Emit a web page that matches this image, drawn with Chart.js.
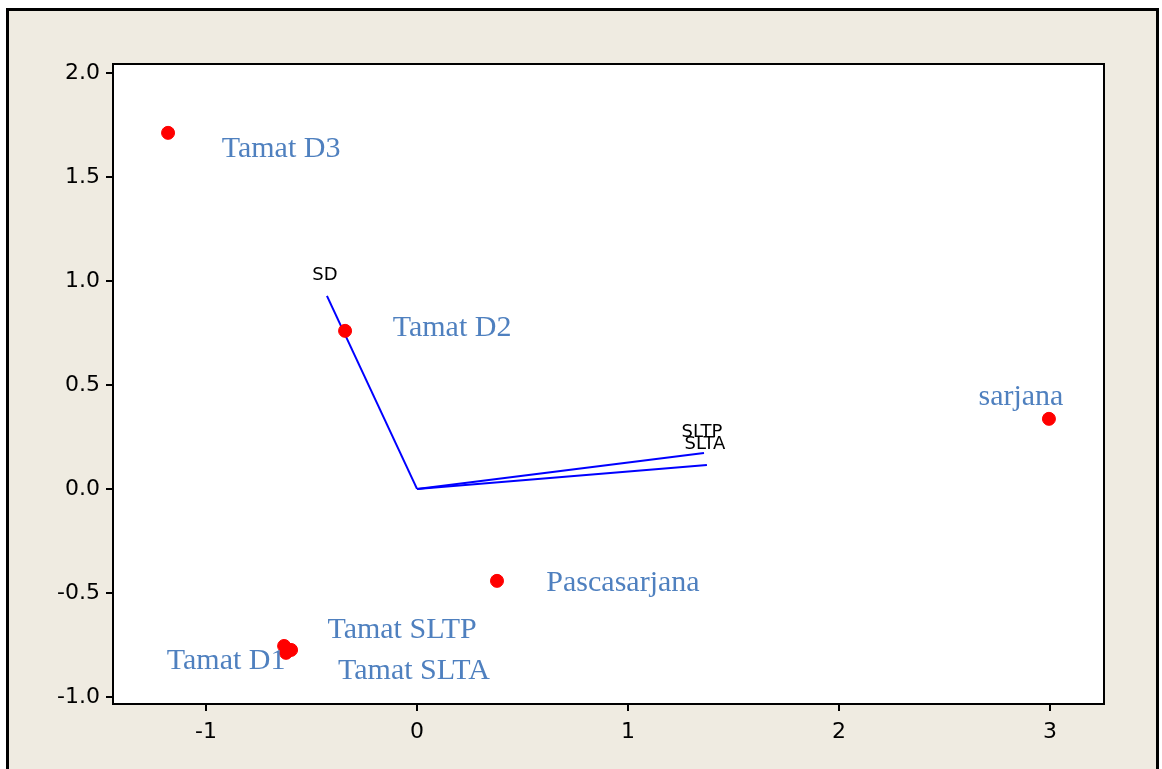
<!DOCTYPE html>
<html>
<head>
<meta charset="utf-8">
<title>Biplot</title>
<script src="https://cdn.jsdelivr.net/npm/chart.js@4.4.1/dist/chart.umd.min.js"></script>
<style>
  html, body { margin: 0; padding: 0; background: #ffffff; }
  canvas { display: block; }
</style>
</head>
<body>
<canvas id="c" width="1162" height="769"></canvas>
<script>
// Observations (row scores)
const pointNames = ['Tamat D3', 'Tamat D2', 'sarjana', 'Pascasarjana', 'Tamat D1', 'Tamat SLTP', 'Tamat SLTA'];
const pointX = [-1.180, -0.341, 2.995, 0.379, -0.630, -0.597, -0.621];
const pointY = [1.712, 0.760, 0.337, -0.442, -0.755, -0.774, -0.788];

// Variable loadings (drawn as vectors from the origin)
const vectorNames = ['SD', 'SLTP', 'SLTA'];
const vectorX = [-0.427, 1.360, 1.374];
const vectorY = [0.928, 0.173, 0.115];

// Axis ticks
const xTicks = [-1, 0, 1, 2, 3];
const yTicks = [-1.0, -0.5, 0.0, 0.5, 1.0, 1.5, 2.0];

// Label placement (pixel offsets of label centre from its mark)
const pointLabelOffsets = {
  'Tamat D3': [113, 16],
  'Tamat D2': [107, -3],
  'sarjana': [-28, -22],
  'Pascasarjana': [126, 2],
  'Tamat D1': [-58, 15],
  'Tamat SLTP': [111, -20],
  'Tamat SLTA': [128, 18]
};
const vectorLabelOffset = [-2, -21];

const PLOT = { left: 113, top: 64, right: 1104, bottom: 704 };
const W = 1162, H = 769;

const datasets = [
  {
    label: 'scores',
    data: pointX.map((x, i) => ({ x: x, y: pointY[i] })),
    backgroundColor: '#ff0000',
    borderColor: '#ff0000',
    pointRadius: 6.5,
    pointHoverRadius: 6.5,
    showLine: false
  }
];
vectorNames.forEach((name, i) => {
  datasets.push({
    label: name,
    data: [{ x: 0, y: 0 }, { x: vectorX[i], y: vectorY[i] }],
    showLine: true,
    borderColor: '#0000ff',
    borderWidth: 2,
    pointRadius: 0,
    fill: false
  });
});

const framePlugin = {
  id: 'frame',
  beforeDraw(chart) {
    const ctx = chart.ctx;
    const a = chart.chartArea;
    ctx.save();
    ctx.fillStyle = '#ffffff';
    ctx.fillRect(0, 0, W, H);
    ctx.fillStyle = '#efebe1';
    ctx.fillRect(7.5, 9.5, 1157.5 - 7.5, H + 10);
    ctx.strokeStyle = '#000000';
    ctx.lineWidth = 3;
    ctx.strokeRect(7.5, 9.5, 1157.5 - 7.5, H + 10);
    ctx.fillStyle = '#ffffff';
    ctx.fillRect(a.left, a.top, a.right - a.left, a.bottom - a.top);
    ctx.restore();
  },
  afterDatasetsDraw(chart) {
    const ctx = chart.ctx;
    const a = chart.chartArea;
    const xs = chart.scales.x, ys = chart.scales.y;
    ctx.save();
    // plot box
    ctx.strokeStyle = '#000000';
    ctx.lineWidth = 2;
    ctx.strokeRect(a.left, a.top, a.right - a.left, a.bottom - a.top);
    // vector labels
    ctx.fillStyle = '#000000';
    ctx.font = '18px "DejaVu Sans"';
    ctx.textAlign = 'center';
    ctx.textBaseline = 'middle';
    vectorNames.forEach((name, i) => {
      const px = xs.getPixelForValue(vectorX[i]);
      const py = ys.getPixelForValue(vectorY[i]);
      ctx.fillText(name, px + vectorLabelOffset[0], py + vectorLabelOffset[1]);
    });
    // observation labels
    ctx.fillStyle = '#4f80bf';
    ctx.font = '30px "Liberation Serif"';
    pointNames.forEach((name, i) => {
      const px = xs.getPixelForValue(pointX[i]);
      const py = ys.getPixelForValue(pointY[i]);
      const off = pointLabelOffsets[name];
      ctx.fillText(name, px + off[0], py + off[1]);
    });
    ctx.restore();
  }
};

new Chart(document.getElementById('c'), {
  type: 'scatter',
  data: { datasets: datasets },
  plugins: [framePlugin],
  options: {
    responsive: false,
    animation: false,
    events: [],
    layout: { padding: { left: 0, top: PLOT.top, right: W - PLOT.right, bottom: 0 } },
    plugins: { legend: { display: false }, tooltip: { enabled: false } },
    scales: {
      x: {
        type: 'linear',
        min: -1.441,
        max: 3.256,
        afterFit(s) { s.height = H - PLOT.bottom; },
        afterBuildTicks(s) { s.ticks = xTicks.map(v => ({ value: v })); },
        ticks: {
          includeBounds: false,
          color: '#000000',
          font: { family: 'DejaVu Sans', size: 22 },
          padding: 8,
          maxRotation: 0,
          callback: v => String(v)
        },
        grid: { drawOnChartArea: false, drawTicks: true, tickLength: 7, lineWidth: 2, color: '#000000' },
        border: { display: false }
      },
      y: {
        type: 'linear',
        min: -1.034,
        max: 2.043,
        afterFit(s) { s.width = PLOT.left; },
        afterBuildTicks(s) { s.ticks = yTicks.map(v => ({ value: v })); },
        ticks: {
          includeBounds: false,
          color: '#000000',
          font: { family: 'DejaVu Sans', size: 22 },
          padding: 6,
          callback: v => Number(v).toFixed(1)
        },
        grid: { drawOnChartArea: false, drawTicks: true, tickLength: 7, lineWidth: 2, color: '#000000' },
        border: { display: false }
      }
    }
  }
});
</script>
</body>
</html>
